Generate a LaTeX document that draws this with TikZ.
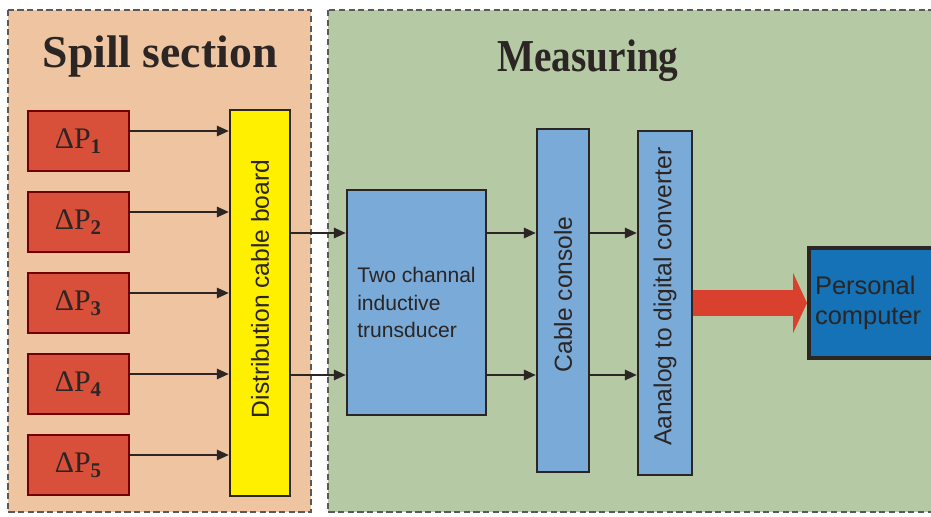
\documentclass[tikz,border=0pt]{standalone}
\usepackage{fontspec}
\setmainfont{Liberation Serif}
\setsansfont{Liberation Sans}
\usetikzlibrary{arrows.meta,calc}

\definecolor{spillbg}{HTML}{EFC5A1}
\definecolor{measbg}{HTML}{B5C9A4}
\definecolor{sensorred}{HTML}{D8503A}
\definecolor{boardyellow}{HTML}{FFF000}
\definecolor{blockblue}{HTML}{7AAAD8}
\definecolor{pcblue}{HTML}{1572B6}
\definecolor{bigred}{HTML}{D9402E}
\definecolor{inkdark}{HTML}{2B2523}

\newcommand{\vtext}[2][0.25cm]{\rotatebox{90}{\hspace*{#1}#2}}

\begin{document}
\begin{tikzpicture}[x=0.02cm, y=-0.02cm]

\useasboundingbox (0,0) rectangle (931,517);
\clip (0,0) rectangle (931,517);
\fill[white] (0,0) rectangle (931,517);

\tikzset{%
    section/.style={draw=black!65, line width=0.8pt, dash pattern=on 3.5pt off 2pt},
    title/.style={anchor=base, text=inkdark, font=\fontsize{26}{30}\selectfont\bfseries},
    sensor/.style={draw=red!45!black, line width=0.6pt, fill=sensorred, text=inkdark,
        minimum width=2.02cm, minimum height=1.2cm, font=\fontsize{17}{20}\selectfont},
    block/.style={draw=inkdark, line width=1.2pt, fill=blockblue, text=inkdark,
        inner sep=0pt, font=\sffamily\fontsize{14}{17}\selectfont},
    conn/.style={draw=inkdark, line width=1.5pt, -{Triangle[length=0.24cm,width=0.2cm]}},
    bigarrow/.style={draw=bigred, line width=0.54cm, -{Triangle[length=0.28cm,width=1.2cm]}}
}

% the two sections
\draw[section, fill=spillbg] (8,10) rectangle (311,512);
\draw[section, fill=measbg] (328,10) rectangle (970,512);

\node[title] (spill) at (160,68) {Spill section};
\node[title, xscale=0.86] (meas) at (588,72) {Measuring};

\foreach \i in {1,...,5}{
    \node[sensor] (p\i) at (78.5,{141+81*(\i-1)}) {ΔP{\bfseries\textsubscript{\i}}};
}

\node[block, fill=boardyellow, minimum width=1.2cm, minimum height=7.72cm] (board)
    at (260,303) {\vtext[0.56cm]{Distribution cable board}};

\node[block, minimum width=2.78cm, minimum height=4.5cm, align=left,
    font=\sffamily\fontsize{12}{15.6}\selectfont] (trans)
    at (416.5,302.5) {Two channal\\inductive\\trunsducer};

\node[block, minimum width=1.04cm, minimum height=6.86cm] (console)
    at (563,300.5) {\vtext{Cable console}};
\node[block, minimum width=1.08cm, minimum height=6.88cm] (adc)
    at (665,303) {\vtext{Aanalog to digital converter}};

\node[block, line width=2.3pt, fill=pcblue, minimum height=2.2cm, inner xsep=0.12cm,
    text width=2.8cm, align=left, font=\sffamily\fontsize{14.5}{17}\selectfont] (pc)
    at (885,303) {Personal\\computer};

% connectors
\foreach \i in {1,...,5}{
    \coordinate (s\i) at ([yshift=0.2cm]p\i.east);
    \draw[conn] (s\i) -- (s\i -| board.west);
}

\foreach \dy [count=\k] in {1.39,-1.45}{
    \coordinate (ch\k) at ([yshift=\dy cm]trans.west);
    \draw[conn] (board.east |- ch\k) -- (ch\k);
    \draw[conn] (trans.east |- ch\k) -- (console.west |- ch\k);
    \draw[conn] (console.east |- ch\k) -- (adc.west |- ch\k);
}

\draw[bigarrow] (adc.east) -- (pc.west);

\end{tikzpicture}
\end{document}
